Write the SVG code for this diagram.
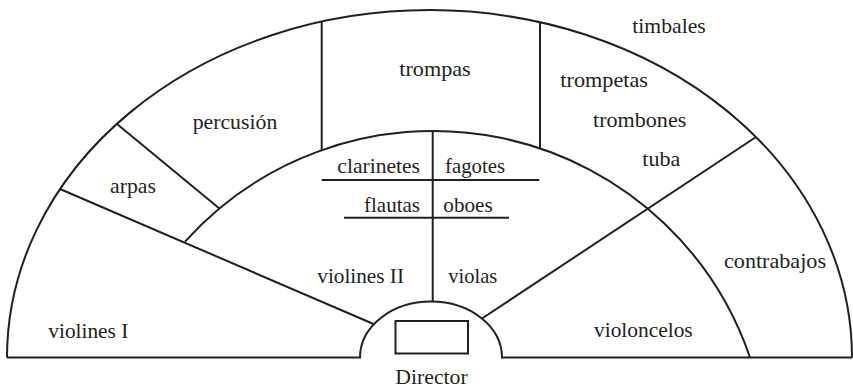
<svg xmlns="http://www.w3.org/2000/svg" width="853" height="389" viewBox="0 0 853 389">
<style>
.ln{fill:none;stroke:#231f20;stroke-width:2;stroke-linecap:butt}
text{font-family:"Liberation Serif","Times New Roman",serif;font-size:21px;fill:#231f20}
</style>
<rect width="853" height="389" fill="#fff"/>
<g id="connectors">
<path class="ln" d="M 7 357.5 A 422.5 347.5 0 0 1 852 357.5"/>
<path class="ln" d="M 7 357.5 L 360 357.5 A 71 56 0 0 1 502 357.5 L 852 357.5"/>
<path class="ln" d="M 185 241.6 A 334.4 334.4 0 0 1 750 357.5"/>
<line class="ln" x1="432.7" y1="301.5" x2="432.7" y2="131"/>
<line class="ln" x1="321.7" y1="21.5" x2="321.7" y2="150.2"/>
<line class="ln" x1="540" y1="22.5" x2="540" y2="148.4"/>
<line class="ln" x1="60" y1="189" x2="373.5" y2="324"/>
<line class="ln" x1="482" y1="318.5" x2="756" y2="137"/>
<line class="ln" x1="117" y1="124" x2="220" y2="209"/>
<line class="ln" x1="321.7" y1="180" x2="539.3" y2="180"/>
<line class="ln" x1="344" y1="217.7" x2="509" y2="217.7"/>
<rect class="ln" x="395.5" y="321" width="72.5" height="32.5"/>
</g>
<g id="violines-I"><text x="48.3" y="338.3" textLength="80" lengthAdjust="spacingAndGlyphs">violines I</text></g>
<g id="arpas"><text x="110" y="193.3" textLength="46" lengthAdjust="spacingAndGlyphs">arpas</text></g>
<g id="percusion"><text x="192.7" y="129.3" textLength="84.6" lengthAdjust="spacingAndGlyphs">percusión</text></g>
<g id="trompas"><text x="399.3" y="76" textLength="71.4" lengthAdjust="spacingAndGlyphs">trompas</text></g>
<g id="timbales"><text x="632.3" y="32.7" textLength="73.4" lengthAdjust="spacingAndGlyphs">timbales</text></g>
<g id="trompetas"><text x="560.3" y="86.7" textLength="87.7" lengthAdjust="spacingAndGlyphs">trompetas</text></g>
<g id="trombones"><text x="593" y="127.3" textLength="93.3" lengthAdjust="spacingAndGlyphs">trombones</text></g>
<g id="tuba"><text x="642.3" y="165.7" textLength="38" lengthAdjust="spacingAndGlyphs">tuba</text></g>
<g id="clarinetes"><text x="337.3" y="173" textLength="82.7" lengthAdjust="spacingAndGlyphs">clarinetes</text></g>
<g id="fagotes"><text x="445" y="173" textLength="60" lengthAdjust="spacingAndGlyphs">fagotes</text></g>
<g id="flautas"><text x="364" y="211.7" textLength="56" lengthAdjust="spacingAndGlyphs">flautas</text></g>
<g id="oboes"><text x="443.3" y="211.7" textLength="49.4" lengthAdjust="spacingAndGlyphs">oboes</text></g>
<g id="violines-II"><text x="317.3" y="283.3" textLength="86.7" lengthAdjust="spacingAndGlyphs">violines II</text></g>
<g id="violas"><text x="448.3" y="283.3" textLength="49" lengthAdjust="spacingAndGlyphs">violas</text></g>
<g id="contrabajos"><text x="724" y="268.3" textLength="102" lengthAdjust="spacingAndGlyphs">contrabajos</text></g>
<g id="violoncelos"><text x="594" y="336.7" textLength="98.7" lengthAdjust="spacingAndGlyphs">violoncelos</text></g>
<g id="director"><text x="395.3" y="384.3" textLength="72.4" lengthAdjust="spacingAndGlyphs">Director</text></g>
</svg>
